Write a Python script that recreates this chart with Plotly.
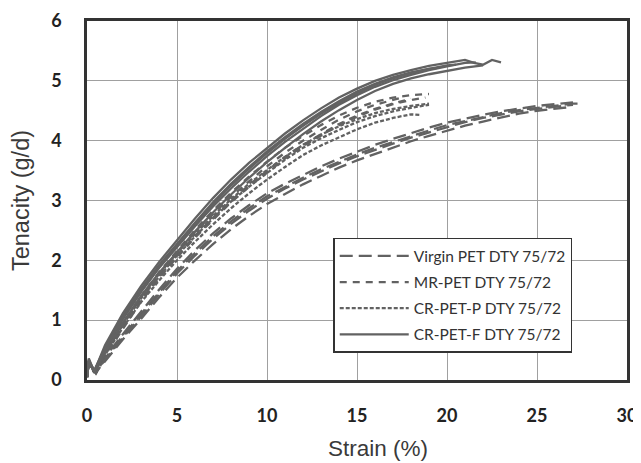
import plotly.graph_objects as go

# ---- data ----
# CR-PET-F DTY 75/72 (solid)
F1_x = [0, 0.1, 0.4, 1, 2, 3, 4, 5, 6, 7, 8, 9, 10, 11, 12, 13, 14, 15, 16, 17, 18, 19, 20, 21, 21.5, 22, 22.5, 23]
F1_y = [0.05, 0.36, 0.14, 0.58, 1.12, 1.57, 1.97, 2.34, 2.70, 3.04, 3.35, 3.63, 3.88, 4.12, 4.34, 4.54, 4.72, 4.87, 5.00, 5.10, 5.18, 5.25, 5.30, 5.35, 5.30, 5.27, 5.35, 5.31]
F2_x = [0, 0.1, 0.4, 1, 2, 3, 4, 5, 6, 7, 8, 9, 10, 11, 12, 13, 14, 15, 16, 17, 18, 19, 20, 21, 21.6]
F2_y = [0.05, 0.33, 0.15, 0.50, 1.02, 1.47, 1.87, 2.22, 2.57, 2.90, 3.20, 3.48, 3.74, 3.98, 4.20, 4.41, 4.60, 4.76, 4.90, 5.01, 5.10, 5.18, 5.24, 5.30, 5.31]
F3_x = [0, 0.1, 0.4, 1, 2, 3, 4, 5, 6, 7, 8, 9, 10, 11, 12, 13, 14, 15, 16, 17, 18, 19, 20, 20.5]
F3_y = [0.05, 0.30, 0.16, 0.54, 1.07, 1.52, 1.92, 2.28, 2.63, 2.97, 3.28, 3.56, 3.82, 4.06, 4.28, 4.48, 4.66, 4.82, 4.95, 5.06, 5.14, 5.20, 5.26, 5.27]
F4_x = [0, 0.1, 0.4, 1, 2, 3, 4, 5, 6, 7, 8, 9, 10, 11, 12, 13, 14, 15, 16, 17, 18, 19, 20, 21, 22]
F4_y = [0.05, 0.34, 0.13, 0.46, 0.96, 1.40, 1.79, 2.14, 2.48, 2.80, 3.10, 3.38, 3.64, 3.88, 4.11, 4.32, 4.51, 4.68, 4.83, 4.95, 5.04, 5.11, 5.17, 5.22, 5.26]
F5_x = [0, 0.1, 0.4, 1, 2, 3, 4, 5, 6, 7, 8, 9, 10, 11, 12, 13, 14, 15, 16, 17, 18, 19, 19.6]
F5_y = [0.05, 0.31, 0.14, 0.52, 1.05, 1.49, 1.89, 2.25, 2.60, 2.94, 3.25, 3.53, 3.79, 4.03, 4.25, 4.45, 4.63, 4.79, 4.93, 5.04, 5.13, 5.20, 5.22]

# MR-PET DTY 75/72 (dash)
M1_x = [0, 0.1, 0.4, 1, 2, 3, 4, 5, 6, 7, 8, 9, 10, 11, 12, 13, 14, 15, 16, 17, 18, 19]
M1_y = [0.05, 0.32, 0.13, 0.45, 0.95, 1.40, 1.80, 2.16, 2.51, 2.83, 3.13, 3.40, 3.65, 3.88, 4.08, 4.26, 4.42, 4.55, 4.65, 4.72, 4.76, 4.78]
M2_x = [0, 0.1, 0.4, 1, 2, 3, 4, 5, 6, 7, 8, 9, 10, 11, 12, 13, 14, 15, 16, 17, 18]
M2_y = [0.05, 0.30, 0.14, 0.42, 0.90, 1.34, 1.73, 2.08, 2.41, 2.71, 3.00, 3.26, 3.50, 3.73, 3.93, 4.11, 4.28, 4.42, 4.53, 4.62, 4.70]
M3_x = [0, 0.1, 0.4, 1, 2, 3, 4, 5, 6, 7, 8, 9, 10, 11, 12, 13, 14, 15, 16, 17, 17.6]
M3_y = [0.05, 0.31, 0.12, 0.44, 0.93, 1.38, 1.78, 2.13, 2.47, 2.77, 3.06, 3.32, 3.57, 3.80, 4.00, 4.18, 4.35, 4.49, 4.60, 4.68, 4.73]
M4_x = [0, 0.1, 0.4, 1, 2, 3, 4, 5, 6, 7, 8, 9, 10, 11, 12, 13, 14, 15, 16, 17, 18, 18.8]
M4_y = [0.05, 0.29, 0.13, 0.40, 0.87, 1.31, 1.70, 2.05, 2.38, 2.68, 2.97, 3.23, 3.47, 3.70, 3.91, 4.09, 4.26, 4.40, 4.52, 4.61, 4.68, 4.72]

# CR-PET-P DTY 75/72 (short dash)
P1_x = [0, 0.1, 0.4, 1, 2, 3, 4, 5, 6, 7, 8, 9, 10, 11, 12, 13, 14, 15, 16, 17, 18, 19]
P1_y = [0.05, 0.31, 0.13, 0.44, 0.93, 1.36, 1.73, 2.08, 2.40, 2.70, 2.98, 3.23, 3.46, 3.68, 3.88, 4.04, 4.18, 4.31, 4.41, 4.49, 4.55, 4.60]
P2_x = [0, 0.1, 0.4, 1, 2, 3, 4, 5, 6, 7, 8, 9, 10, 11, 12, 13, 14, 15, 16, 17, 18, 18.5]
P2_y = [0.05, 0.30, 0.14, 0.41, 0.88, 1.30, 1.66, 2.00, 2.31, 2.60, 2.87, 3.12, 3.35, 3.56, 3.76, 3.92, 4.06, 4.19, 4.30, 4.38, 4.44, 4.43]
P3_x = [0, 0.1, 0.4, 1, 2, 3, 4, 5, 6, 7, 8, 9, 10, 11, 12, 13, 14, 15, 16, 17, 18, 19]
P3_y = [0.05, 0.32, 0.12, 0.46, 0.96, 1.40, 1.77, 2.12, 2.44, 2.74, 3.02, 3.28, 3.51, 3.73, 3.93, 4.10, 4.24, 4.36, 4.46, 4.53, 4.58, 4.62]

# Virgin PET DTY 75/72 (long dash)
V1_x = [0, 0.1, 0.5, 1, 2, 3, 4, 5, 6, 7, 8, 9, 10, 11, 12, 13, 14, 15, 16, 17, 18, 19, 20, 21, 22, 23, 24, 25, 26, 27, 27.3]
V1_y = [0.05, 0.30, 0.12, 0.36, 0.74, 1.10, 1.47, 1.82, 2.12, 2.40, 2.65, 2.87, 3.07, 3.23, 3.38, 3.52, 3.65, 3.77, 3.88, 3.98, 4.08, 4.17, 4.26, 4.33, 4.40, 4.46, 4.51, 4.55, 4.59, 4.62, 4.62]
V2_x = [0, 0.1, 0.5, 1, 2, 3, 4, 5, 6, 7, 8, 9, 10, 11, 12, 13, 14, 15, 16, 17, 18, 19, 20, 21, 22, 23, 24, 25, 26, 26.8]
V2_y = [0.05, 0.28, 0.13, 0.32, 0.68, 1.02, 1.38, 1.71, 2.00, 2.27, 2.52, 2.74, 2.94, 3.11, 3.27, 3.41, 3.55, 3.67, 3.78, 3.89, 3.99, 4.08, 4.17, 4.25, 4.32, 4.39, 4.45, 4.50, 4.54, 4.56]
V3_x = [0, 0.1, 0.5, 1, 2, 3, 4, 5, 6, 7, 8, 9, 10, 11, 12, 13, 14, 15, 16, 17, 18, 19, 20, 21, 22, 23, 24, 25, 26, 27]
V3_y = [0.05, 0.31, 0.11, 0.38, 0.77, 1.14, 1.51, 1.86, 2.17, 2.45, 2.70, 2.92, 3.12, 3.28, 3.43, 3.57, 3.70, 3.82, 3.93, 4.03, 4.13, 4.22, 4.30, 4.37, 4.43, 4.49, 4.54, 4.58, 4.61, 4.64]
V4_x = [0, 0.1, 0.5, 1, 2, 3, 4, 5, 6, 7, 8, 9, 10, 11, 12, 13, 14, 15, 16, 17, 18, 19, 20, 21, 22, 23, 24, 25, 26, 27]
V4_y = [0.05, 0.29, 0.12, 0.34, 0.71, 1.06, 1.43, 1.78, 2.08, 2.36, 2.61, 2.83, 3.03, 3.20, 3.35, 3.49, 3.62, 3.74, 3.85, 3.95, 4.05, 4.14, 4.23, 4.31, 4.38, 4.44, 4.49, 4.53, 4.57, 4.60]

SERIES_NAMES = ["Virgin PET DTY 75/72", "MR-PET DTY 75/72", "CR-PET-P DTY 75/72", "CR-PET-F DTY 75/72"]
X_TICKS = [0, 5, 10, 15, 20, 25, 30]
Y_TICKS = [0, 1, 2, 3, 4, 5, 6]
X_TITLE = "Strain (%)"
Y_TITLE = "Tenacity (g/d)"

groups = [
    (SERIES_NAMES[0], "13px,6px", [(V1_x, V1_y), (V2_x, V2_y), (V3_x, V3_y), (V4_x, V4_y)]),
    (SERIES_NAMES[1], "7px,6px", [(M1_x, M1_y), (M2_x, M2_y), (M3_x, M3_y), (M4_x, M4_y)]),
    (SERIES_NAMES[2], "4px,2px", [(P1_x, P1_y), (P2_x, P2_y), (P3_x, P3_y)]),
    (SERIES_NAMES[3], "solid", [(F1_x, F1_y), (F2_x, F2_y), (F3_x, F3_y), (F4_x, F4_y), (F5_x, F5_y)]),
]

LINE_COLOR = "#626262"

fig = go.Figure()
for name, dash, reps in groups:
    for i, (xs, ys) in enumerate(reps):
        fig.add_trace(go.Scatter(
            x=xs, y=ys, mode="lines", name=name,
            line=dict(color=LINE_COLOR, width=2.3, dash=dash),
            showlegend=(i == 0), legendgroup=name,
        ))

title_font = dict(family="Liberation Sans", size=23.5, color="#3a3a3a")
x_title_font = dict(family="Liberation Sans", size=22.5, color="#3a3a3a")
tick_font = dict(family="Lato", size=18, color="#222222", weight="bold")

# the page body has an 8px default margin, so the figure is sized to fit beside it
fig.update_layout(
    width=633, height=455,
    margin=dict(l=79, r=14, t=13, b=83),
    paper_bgcolor="white", plot_bgcolor="white",
    showlegend=True,
    legend=dict(
        x=0.456, y=0.396, xanchor="left", yanchor="top",
        bgcolor="white", bordercolor="#333333", borderwidth=1.5,
        font=dict(family="Lato", size=15.5, color="#333333"),
        tracegroupgap=3, itemwidth=69,
    ),
    annotations=[dict(
        text=X_TITLE, xref="paper", yref="paper", x=0.539, y=-0.19,
        xanchor="center", yanchor="middle", showarrow=False, font=x_title_font,
    )],
)
fig.update_xaxes(
    range=[0, 30], tickvals=X_TICKS, ticktext=[str(v) for v in X_TICKS],
    showgrid=True, gridcolor="#a0a0a0", gridwidth=1.3,
    showline=True, linecolor="#333333", linewidth=2.5, mirror=True,
    ticks="outside", ticklen=18, tickcolor="rgba(0,0,0,0)",
    tickfont=tick_font, automargin=False,
    zeroline=False,
)
fig.update_yaxes(
    range=[0, 6], tickvals=Y_TICKS, ticktext=[str(v) for v in Y_TICKS],
    showgrid=True, gridcolor="#a0a0a0", gridwidth=1.3,
    showline=True, linecolor="#333333", linewidth=2.5, mirror=True,
    ticks="outside", ticklen=19, tickcolor="rgba(0,0,0,0)",
    tickfont=tick_font, automargin=False,
    title=dict(text=Y_TITLE, font=title_font, standoff=19),
    zeroline=False,
)

fig.write_html("out.html")
